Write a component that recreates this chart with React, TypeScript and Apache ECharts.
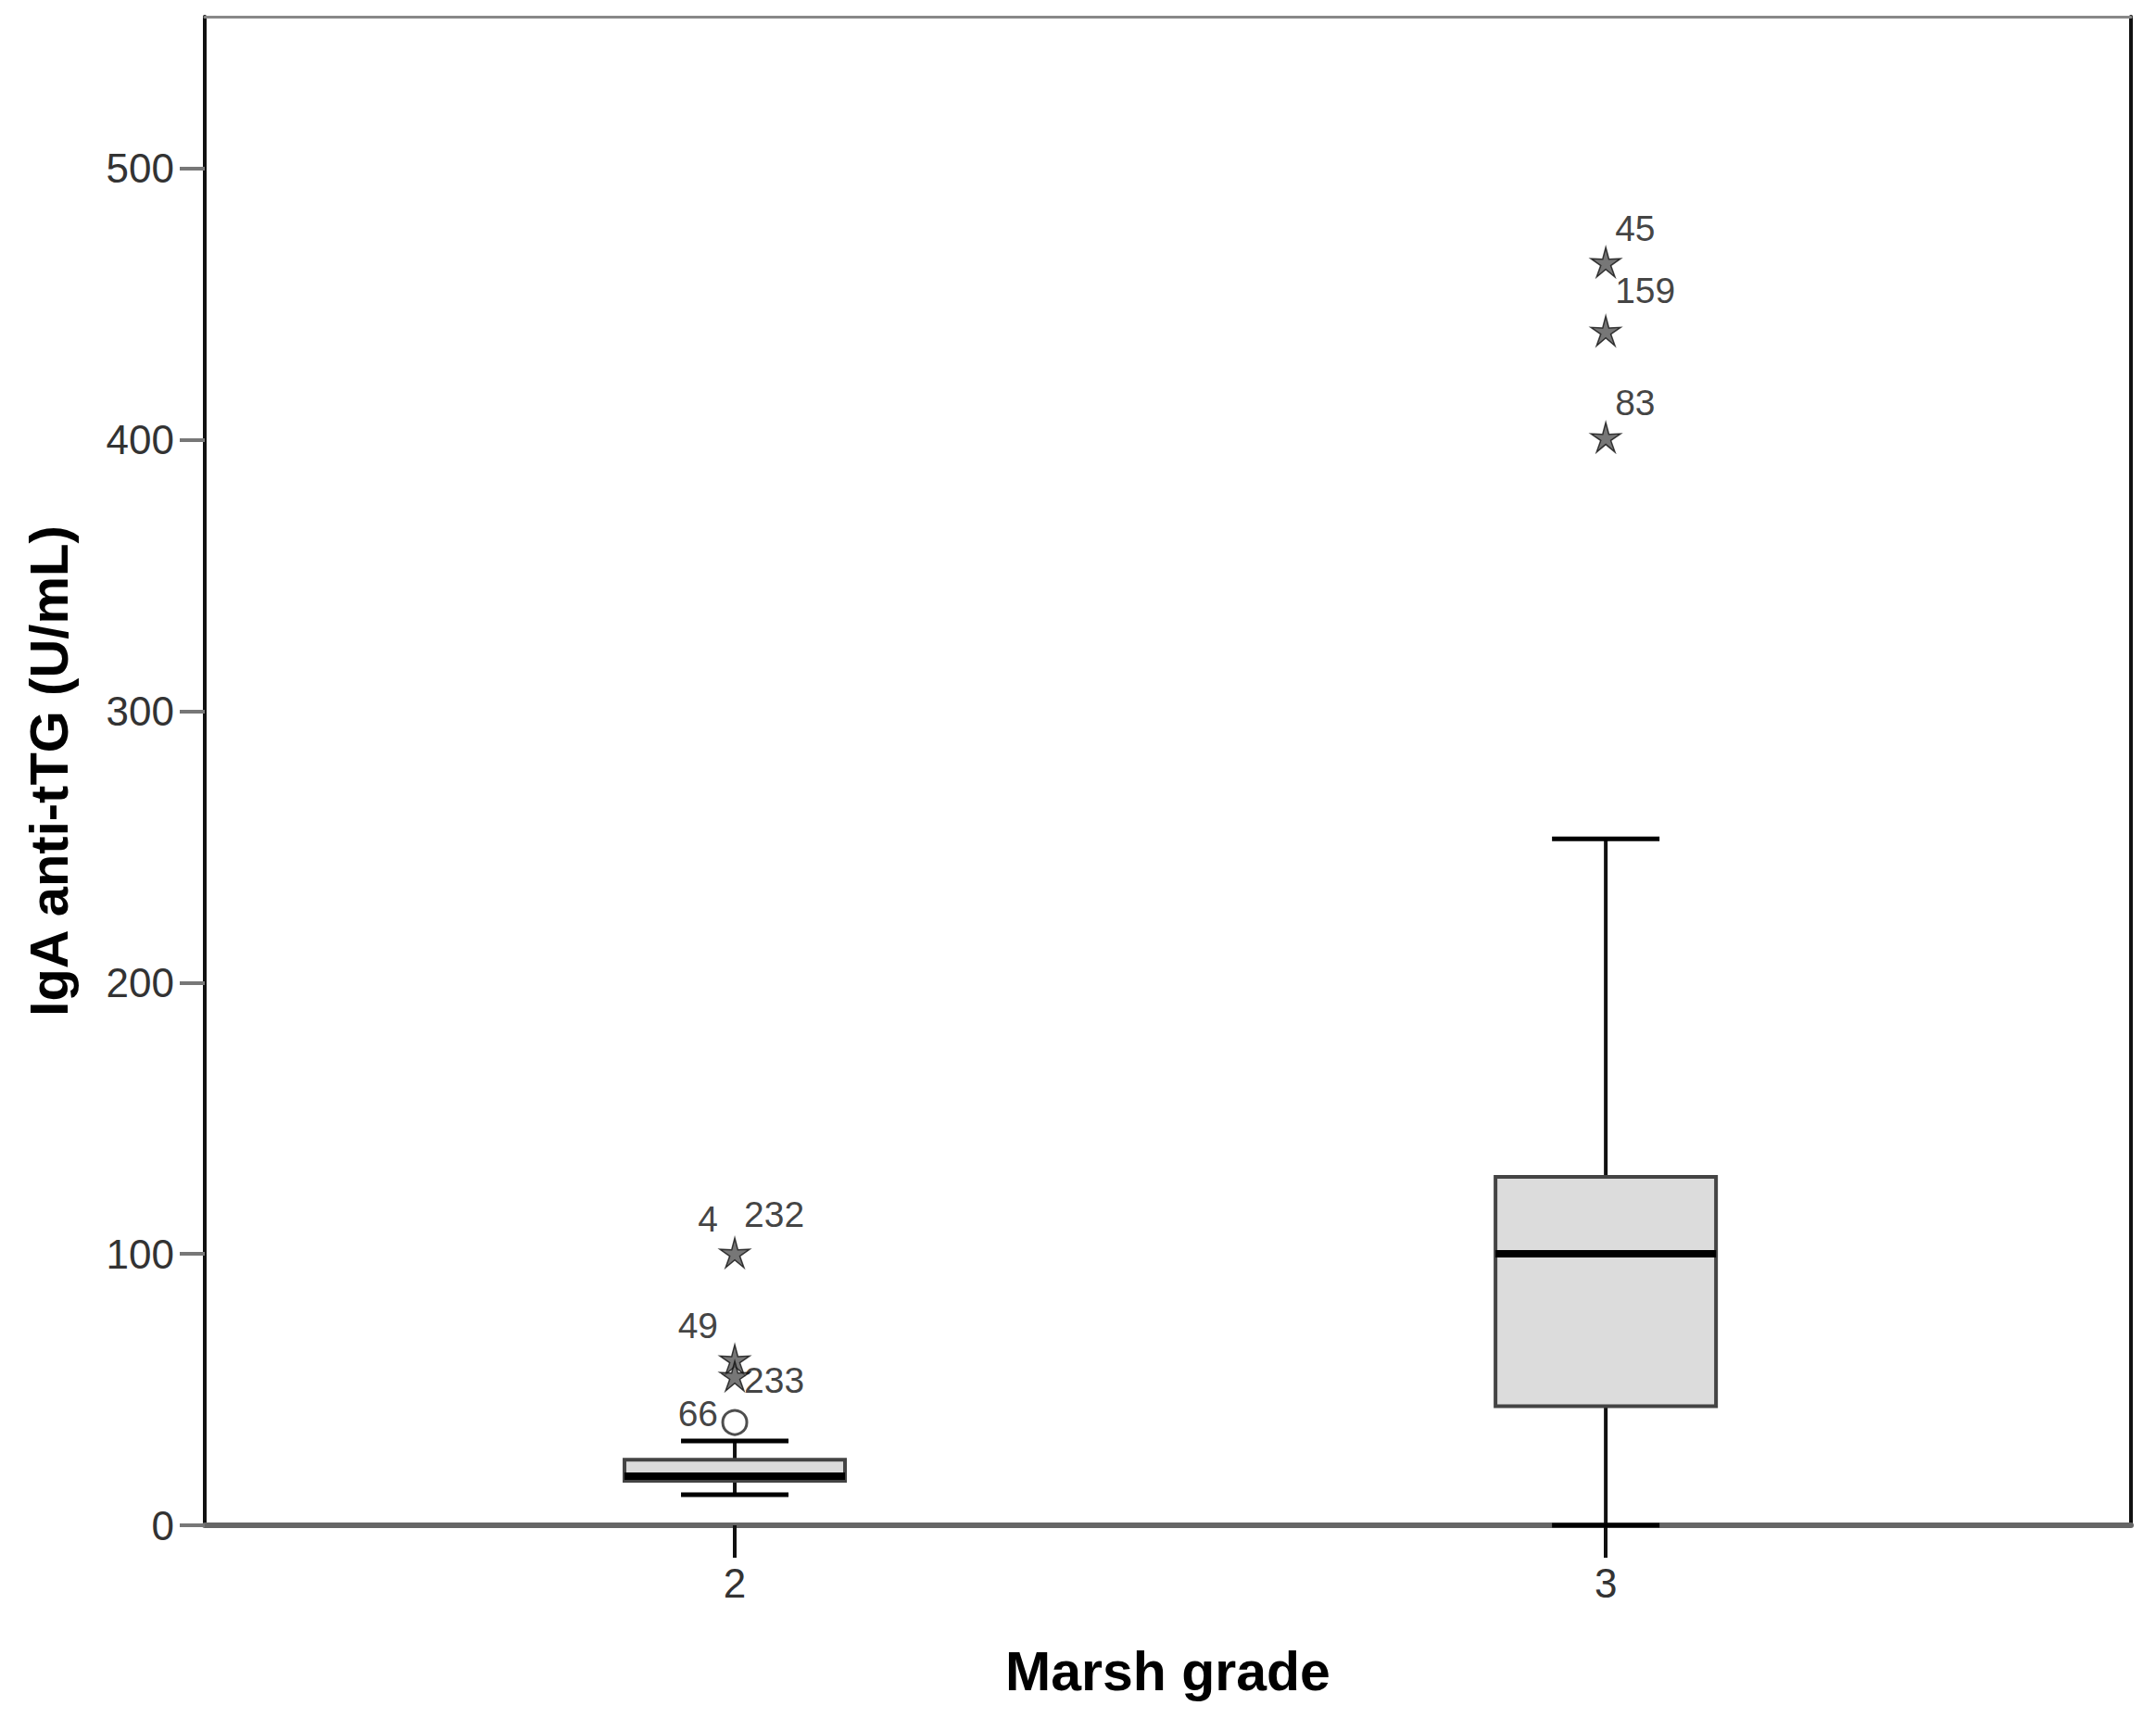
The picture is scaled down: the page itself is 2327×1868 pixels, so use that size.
import React, { useEffect, useRef } from 'react';
import * as echarts from 'echarts';

// Box plot of IgA anti-tTG by Marsh grade
const groups = [2, 3];
const lowerWhisker = [11.3, 0];
const q1 = [16.4, 43.9];
const median = [18.1, 100.1];
const q3 = [24.2, 128.4];
const upperWhisker = [31.1, 253];

// extreme values (stars)
const extremeX = [2, 2, 2, 3, 3, 3];
const extremeY = [100.4, 61.1, 55, 465.5, 440.2, 401];
const extremeRightIds = ['232', '', '233', '45', '159', '83'];
const extremeLeftIds = ['4', '49', '', '', '', ''];

// outliers (circles)
const outlierX = [2];
const outlierY = [37.9];
const outlierIds = ['66'];

const yTicks = [0, 100, 200, 300, 400, 500];
const xTicks = [2, 3];

const FONT = '"Liberation Sans", Arial, sans-serif';

function starPath(): string {
  const pts: string[] = [];
  for (let i = 0; i < 10; i++) {
    const r = i % 2 === 0 ? 50 : 17;
    const a = -Math.PI / 2 + (i * Math.PI) / 5;
    pts.push(`${(50 + r * Math.cos(a)).toFixed(2)} ${(50 + r * Math.sin(a)).toFixed(2)}`);
  }
  return 'path://M' + pts.join(' L') + ' Z';
}

// label offsets (style only)
const rightDy: Record<string, number> = { '232': -42, '233': 5, '45': -36, '159': -44, '83': -37 };

export default function App() {
  const ref = useRef<HTMLDivElement>(null);

  useEffect(() => {
    if (!ref.current) return;
    const chart = echarts.init(ref.current, null, { renderer: 'svg' });
    const star = starPath();

    const labelText = { fontFamily: FONT, fontSize: 39, color: '#111' };

    chart.setOption({
      animation: false,
      backgroundColor: '#fff',
      grid: { left: 213, top: 10, right: 19, bottom: 214, outerBoundsMode: 'none' },
      xAxis: [
        {
          type: 'value',
          min: 1.3915,
          max: 3.603,
          name: 'Marsh grade',
          nameLocation: 'middle',
          nameGap: 128,
          nameTextStyle: { fontFamily: FONT, fontSize: 59, fontWeight: 'bold', color: '#000' },
          axisLine: { show: true, onZero: false, lineStyle: { color: '#666', width: 6 } },
          axisTick: { show: true, length: 35, customValues: xTicks, lineStyle: { color: '#111', width: 4 } },
          axisLabel: {
            customValues: xTicks,
            margin: 40,
            fontFamily: FONT,
            fontSize: 44,
            color: '#333',
          },
          splitLine: { show: false },
        },
        {
          type: 'value',
          position: 'top',
          min: 1.3915,
          max: 3.603,
          axisLine: { show: true, onZero: false, lineStyle: { color: '#888', width: 3 } },
          axisTick: { show: false },
          axisLabel: { show: false },
          splitLine: { show: false },
        },
      ],
      yAxis: [
        {
          type: 'value',
          min: 0,
          max: 556,
          name: 'IgA anti-tTG (U/mL)',
          nameLocation: 'middle',
          nameGap: 140,
          nameTextStyle: { fontFamily: FONT, fontSize: 58, fontWeight: 'bold', color: '#000' },
          axisLine: { show: true, onZero: false, lineStyle: { color: '#111', width: 4 } },
          axisTick: { show: true, length: 27, customValues: yTicks, lineStyle: { color: '#777', width: 4 } },
          axisLabel: {
            customValues: yTicks,
            margin: 33,
            fontFamily: FONT,
            fontSize: 44,
            color: '#333',
          },
          splitLine: { show: false },
        },
        {
          type: 'value',
          position: 'right',
          min: 0,
          max: 556,
          axisLine: { show: true, onZero: false, lineStyle: { color: '#111', width: 4 } },
          axisTick: { show: false },
          axisLabel: { show: false },
          splitLine: { show: false },
        },
      ],
      series: [
        {
          type: 'custom',
          name: 'box',
          xAxisIndex: 0,
          yAxisIndex: 0,
          encode: { x: 0, y: [1, 2, 3, 4, 5] },
          data: groups.map((g, i) => [g, lowerWhisker[i], q1[i], median[i], q3[i], upperWhisker[i]]),
          renderItem: (_params: any, api: any) => {
            const x = api.value(0);
            const lo = api.coord([x, api.value(1)]);
            const b = api.coord([x, api.value(2)]);
            const m = api.coord([x, api.value(3)]);
            const t = api.coord([x, api.value(4)]);
            const hi = api.coord([x, api.value(5)]);
            const cx = lo[0];
            const hb = 119;
            const hc = 58;
            const ws = { stroke: '#111', lineWidth: 4 };
            return {
              type: 'group',
              children: [
                { type: 'line', shape: { x1: cx, y1: lo[1], x2: cx, y2: b[1] }, style: ws },
                { type: 'line', shape: { x1: cx, y1: t[1], x2: cx, y2: hi[1] }, style: ws },
                { type: 'line', shape: { x1: cx - hc, y1: lo[1], x2: cx + hc, y2: lo[1] }, style: { stroke: '#000', lineWidth: 5 } },
                { type: 'line', shape: { x1: cx - hc, y1: hi[1], x2: cx + hc, y2: hi[1] }, style: { stroke: '#000', lineWidth: 5 } },
                {
                  type: 'rect',
                  shape: { x: cx - hb, y: t[1], width: hb * 2, height: b[1] - t[1] },
                  style: { fill: '#dcdcdc', stroke: '#444', lineWidth: 4 },
                },
                { type: 'line', shape: { x1: cx - hb, y1: m[1], x2: cx + hb, y2: m[1] }, style: { stroke: '#000', lineWidth: 8 } },
              ],
            };
          },
          z: 3,
        },
        {
          type: 'scatter',
          name: 'extremes',
          symbol: star,
          symbolSize: 32,
          itemStyle: { color: '#555', borderColor: '#111', borderWidth: 1.5 },
          data: extremeX.map((x, i) => ({
            value: [x, extremeY[i]],
            label: {
              show: extremeRightIds[i] !== '',
              formatter: extremeRightIds[i],
              position: 'inside',
              align: 'left',
              verticalAlign: 'middle',
              offset: [10, rightDy[extremeRightIds[i]] ?? -38],
              ...labelText,
            },
          })),
          z: 4,
        },
        {
          type: 'scatter',
          name: 'extremeLeft',
          symbol: 'circle',
          symbolSize: 2,
          itemStyle: { color: 'rgba(0,0,0,0)' },
          data: extremeX.map((x, i) => ({
            value: [x, extremeY[i]],
            label: {
              show: extremeLeftIds[i] !== '',
              formatter: extremeLeftIds[i],
              position: 'inside',
              align: 'right',
              verticalAlign: 'middle',
              offset: [-18, -37],
              ...labelText,
            },
          })),
          z: 5,
        },
        {
          type: 'scatter',
          name: 'outliers',
          symbol: 'circle',
          symbolSize: 26,
          itemStyle: { color: '#fff', borderColor: '#222', borderWidth: 3 },
          data: outlierX.map((x, i) => ({
            value: [x, outlierY[i]],
            label: {
              show: true,
              formatter: outlierIds[i],
              position: 'inside',
              align: 'right',
              verticalAlign: 'middle',
              offset: [-18, -10],
              ...labelText,
            },
          })),
          z: 4,
        },
      ],
    });

    return () => chart.dispose();
  }, []);

  return <div ref={ref} style={{ width: 2311, height: 1852 }} />;
}
